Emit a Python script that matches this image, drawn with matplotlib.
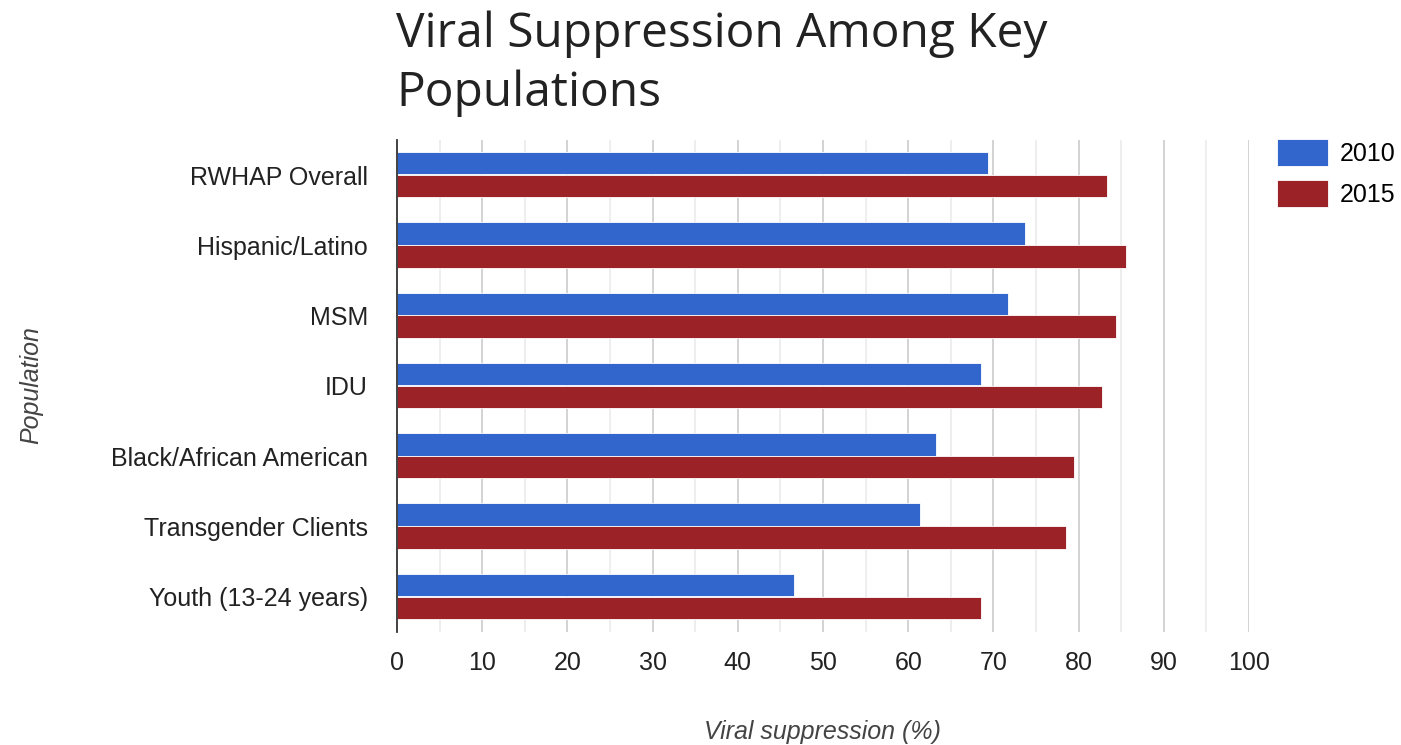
import numpy as np
import matplotlib.pyplot as plt

# Viral suppression (%) by population, 2010 vs 2015
populations = ["RWHAP Overall", "Hispanic/Latino", "MSM", "IDU",
               "Black/African American", "Transgender Clients", "Youth (13-24 years)"]
supp_2010 = [69.4, 73.7, 71.7, 68.5, 63.3, 61.4, 46.6]
supp_2015 = [83.3, 85.6, 84.4, 82.8, 79.5, 78.5, 68.5]
x_ticks = [0, 10, 20, 30, 40, 50, 60, 70, 80, 90, 100]

BLUE = "#3366cc"
RED = "#9b2226"
FS = 18

fig = plt.figure(figsize=(14.01, 7.45), dpi=100)
ax = fig.add_axes([397 / 1401, 1 - 632 / 745, (1249 - 397) / 1401, (632 - 140) / 745])

y = np.arange(len(populations))
h = 0.32
ax.barh(y - 0.17, supp_2010, height=h, color=BLUE, edgecolor="white", linewidth=0.6,
        label="2010", zorder=3)
ax.barh(y + 0.155, supp_2015, height=h, color=RED, edgecolor="white", linewidth=0.6,
        label="2015", zorder=3)

ax.set_xlim(0, 100)
ax.set_ylim(len(populations) - 0.5, -0.5)

# major and minor vertical grid lines
for v in np.arange(5, 100, 10):
    ax.axvline(v, color="#ebebeb", lw=1.2, zorder=1)
for v in x_ticks[1:]:
    ax.axvline(v, color="#cccccc", lw=1.2, zorder=1)

for s in ["top", "right", "bottom"]:
    ax.spines[s].set_visible(False)
ax.spines["left"].set_color("#333333")
ax.spines["left"].set_linewidth(1.3)
ax.spines["left"].set_zorder(4)

ax.set_xticks(x_ticks)
ax.set_yticks(y)
ax.set_yticklabels(populations)
ax.tick_params(axis="both", length=0, labelsize=FS, labelcolor="#222222",
               labelfontfamily="Liberation Sans")
ax.tick_params(axis="x", pad=14)
ax.tick_params(axis="y", pad=21)

ax.set_xlabel("Viral suppression (%)", fontsize=FS, style="italic", color="#444444",
              family="Liberation Sans", labelpad=32)
fig.text(31 / 1401, 1 - 385 / 745, "Population", rotation=90, fontsize=FS,
         style="italic", color="#444444", family="Liberation Sans",
         ha="center", va="center")

fig.text(396 / 1401, 1 - 10 / 745, "Viral Suppression Among Key\nPopulations",
         fontsize=34.5, family="Open Sans", color="#222222", ha="left", va="top",
         linespacing=1.33)

leg = ax.legend(loc="upper left", bbox_to_anchor=(1277 / 1401, 1 - 139 / 745),
                bbox_transform=fig.transFigure, frameon=False,
                prop={"family": "Liberation Sans", "size": FS},
                borderpad=0, borderaxespad=0,
                handlelength=2.05, handleheight=1.3, labelspacing=0.55, handletextpad=0.45)

fig.savefig("out.png", dpi=100, facecolor="white")
